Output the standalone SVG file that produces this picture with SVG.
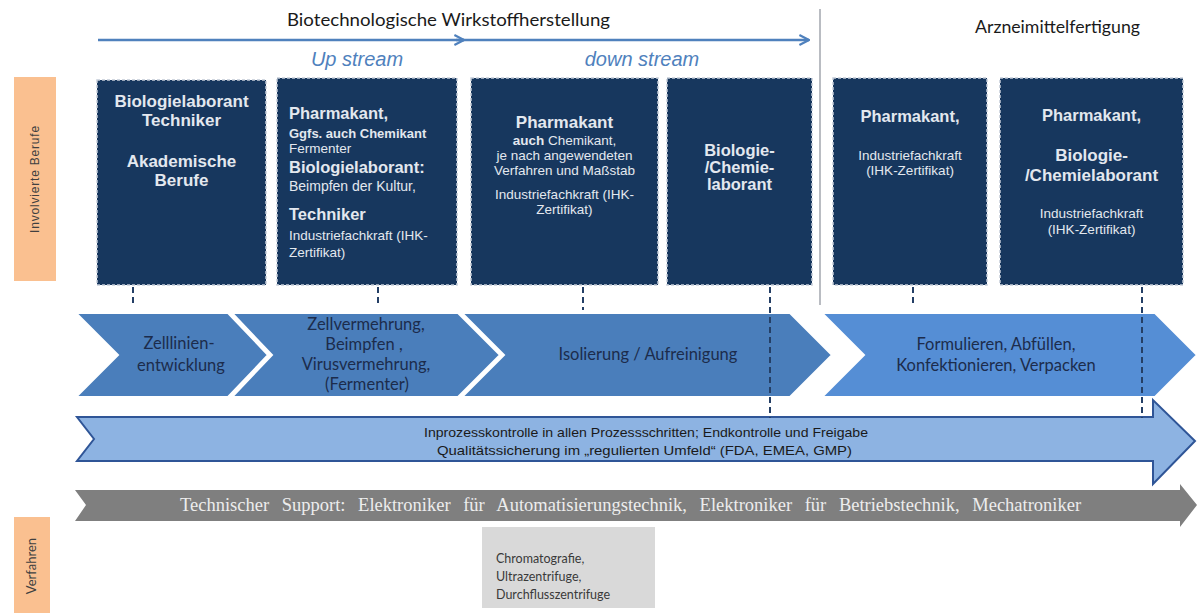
<svg xmlns="http://www.w3.org/2000/svg" width="1197" height="613" viewBox="0 0 1197 613">
  <defs>
    <style>
      .hdr{font-family:Lato,"Open Sans","Liberation Sans",sans-serif;font-size:17.5px;fill:#1a1a1a}
      .stream{font-family:"Liberation Sans",Arial,sans-serif;font-style:italic;font-size:20px;fill:#4f81bd;text-anchor:middle}
      .side rect{fill:#fac090}
      .side text{font-family:"Liberation Sans",Arial,sans-serif;font-size:12px;fill:#404040;text-anchor:middle}
      .box rect{fill:#17375e;stroke:#c3ccd8;stroke-width:1.5;stroke-dasharray:3 2}
      .box text{font-family:"Liberation Sans",Arial,sans-serif;fill:#e3e8ef;text-anchor:middle}
      .box text.l{text-anchor:start}
      .b{font-weight:bold;font-size:16.5px}
      .m{font-size:13.5px}
      .s{font-size:13.5px}
      .chev polygon{stroke:#ffffff;stroke-width:2}
      .chev text{font-family:Lato,"Open Sans",sans-serif;font-size:16.5px;fill:#1c2c4c;text-anchor:middle}
      .link{stroke:#243f66;stroke-width:2;stroke-dasharray:6 4;fill:none}
      .flow{stroke:#4f81bd;stroke-width:2.6;fill:none}
    </style>
    <marker id="open" viewBox="0 0 10 10" refX="9" refY="5" markerWidth="12" markerHeight="12" markerUnits="userSpaceOnUse" orient="auto">
      <path d="M1,0.8 L9,5 L1,9.2" fill="none" stroke="#4f81bd" stroke-width="1.8"/>
    </marker>
  </defs>

  <rect width="1197" height="613" fill="#ffffff"/>

  <!-- section headings -->
  <g id="headings">
    <text class="hdr" x="287" y="26" textLength="323" lengthAdjust="spacingAndGlyphs">Biotechnologische Wirkstoffherstellung</text>
    <text class="hdr" x="975" y="33" textLength="165" lengthAdjust="spacingAndGlyphs">Arzneimittelfertigung</text>
    <text class="stream" x="357" y="66">Up stream</text>
    <text class="stream" x="642" y="66">down stream</text>
    <line x1="820" y1="9" x2="820" y2="305" stroke="#8a8f99" stroke-width="1.2"/>
  </g>

  <!-- side labels -->
  <g id="label-berufe" class="side">
    <rect x="14" y="77" width="42" height="204"/>
    <text transform="translate(39,179) rotate(-90)" letter-spacing="0.8">Involvierte Berufe</text>
  </g>
  <g id="label-verfahren" class="side">
    <rect x="14" y="517" width="36" height="96"/>
    <text transform="translate(36,566) rotate(-90)" style="font-family:Lato,'Open Sans',sans-serif;font-size:13px">Verfahren</text>
  </g>

  <!-- occupation boxes -->
  <g id="box-zelllinie" class="box">
    <rect x="97" y="80" width="169" height="205"/>
    <text class="b" x="181.5" y="107" style="font-size:17px">Biologielaborant</text>
    <text class="b" x="181.5" y="126" style="font-size:17px">Techniker</text>
    <text class="b" x="181.5" y="167" style="font-size:17px">Akademische</text>
    <text class="b" x="181.5" y="186" style="font-size:17px">Berufe</text>
  </g>

  <g id="box-vermehrung" class="box">
    <rect x="277" y="78" width="180" height="207"/>
    <text class="l b" x="289" y="119">Pharmakant,</text>
    <text class="l" x="289" y="138" font-size="13" font-weight="bold">Ggfs. auch Chemikant</text>
    <text class="l m" x="289" y="153">Fermenter</text>
    <text class="l b" x="289" y="173">Biologielaborant:</text>
    <text class="l" x="289" y="191" font-size="14">Beimpfen der Kultur,</text>
    <text class="l b" x="289" y="220">Techniker</text>
    <text class="l s" x="289" y="240">Industriefachkraft (IHK-</text>
    <text class="l s" x="289" y="257">Zertifikat)</text>
  </g>

  <g id="box-isolierung" class="box">
    <rect x="471" y="78" width="187" height="207"/>
    <text class="b" x="564.5" y="128" style="font-size:17px">Pharmakant</text>
    <text class="m" x="564.5" y="145"><tspan font-weight="bold">auch</tspan> Chemikant,</text>
    <text class="m" x="564.5" y="160">je nach angewendeten</text>
    <text class="m" x="564.5" y="175">Verfahren und Maßstab</text>
    <text class="s" x="564.5" y="199">Industriefachkraft (IHK-</text>
    <text class="s" x="564.5" y="214">Zertifikat)</text>
  </g>

  <g id="box-labor" class="box">
    <rect x="667" y="78" width="145" height="207"/>
    <text class="b" x="739.5" y="156">Biologie-</text>
    <text class="b" x="739.5" y="173">/Chemie-</text>
    <text class="b" x="739.5" y="190">laborant</text>
  </g>

  <g id="box-fertigung" class="box">
    <rect x="833" y="78" width="154" height="207"/>
    <text class="b" x="910" y="122">Pharmakant,</text>
    <text class="s" x="910" y="160">Industriefachkraft</text>
    <text class="s" x="910" y="175">(IHK-Zertifikat)</text>
  </g>

  <g id="box-fertigung-labor" class="box">
    <rect x="1000" y="78" width="183" height="207"/>
    <text class="b" x="1091.5" y="121">Pharmakant,</text>
    <text class="b" x="1091.5" y="161" style="font-size:17px">Biologie-</text>
    <text class="b" x="1091.5" y="181" style="font-size:17px">/Chemielaborant</text>
    <text class="s" x="1091.5" y="218">Industriefachkraft</text>
    <text class="s" x="1091.5" y="234">(IHK-Zertifikat)</text>
  </g>

  <!-- process chevrons -->
  <g id="step-zelllinie" class="chev">
    <polygon points="76,313 228,313 268,355 228,397 76,397 118,355" fill="#4a7ebb"/>
    <text x="179" y="349">Zelllinien-</text>
    <text x="181" y="371">entwicklung</text>
  </g>
  <g id="step-vermehrung" class="chev">
    <polygon points="232,313 458,313 500,355 458,397 232,397 272,355" fill="#4a7ebb"/>
    <text x="366" y="330">Zellvermehrung,</text>
    <text x="364" y="350">Beimpfen ,</text>
    <text x="366" y="370">Virusvermehrung,</text>
    <text x="367" y="390">(Fermenter)</text>
  </g>
  <g id="step-isolierung" class="chev">
    <polygon points="462,313 790,313 832,355 790,397 462,397 504,355" fill="#4a7ebb"/>
    <text x="648" y="360">Isolierung / Aufreinigung</text>
  </g>
  <g id="step-fertigung" class="chev">
    <polygon points="822,313 1155,313 1197,355 1155,397 822,397 864,355" fill="#558ed5"/>
    <text x="996" y="350">Formulieren, Abfüllen,</text>
    <text x="996" y="371">Konfektionieren, Verpacken</text>
  </g>

  <!-- quality band -->
  <g id="band-qualitaet">
    <polygon points="77,417 1153,417 1153,400 1195,441 1153,484 1153,461 77,461 94,439" fill="#8db3e2" stroke="#2f5597" stroke-width="2"/>
    <g font-family="'Liberation Sans',Arial,sans-serif" font-size="13" fill="#1a1a1a">
      <text x="424" y="437" textLength="444" lengthAdjust="spacingAndGlyphs">Inprozesskontrolle in allen Prozessschritten; Endkontrolle und Freigabe</text>
      <text x="437" y="455" textLength="415" lengthAdjust="spacingAndGlyphs">Qualitätssicherung im „regulierten Umfeld“ (FDA, EMEA,  GMP)</text>
    </g>
  </g>

  <!-- technical support band -->
  <g id="band-support">
    <polygon points="75,490 1180,490 1180,484 1197,505 1180,527 1180,521 75,521 86,505" fill="#7f7f7f"/>
    <text x="180" y="511" font-family="'Liberation Serif','Times New Roman',serif" font-size="18.5" word-spacing="8" fill="#ededed">Technischer Support: Elektroniker für Automatisierungstechnik, Elektroniker für Betriebstechnik, Mechatroniker</text>
  </g>

  <!-- methods -->
  <g id="methods">
    <rect x="482" y="527" width="173" height="81" fill="#d9d9d9"/>
    <g font-family="Lato,'Open Sans',sans-serif" font-size="12.5" fill="#3a3a3a">
      <text x="496" y="563">Chromatografie,</text>
      <text x="496" y="581">Ultrazentrifuge,</text>
      <text x="496" y="599">Durchflusszentrifuge</text>
    </g>
  </g>

  <!-- connectors -->
  <g id="connectors">
    <line class="flow" x1="98" y1="40" x2="464" y2="40" marker-end="url(#open)"/>
    <line class="flow" x1="456" y1="40" x2="809" y2="40" marker-end="url(#open)"/>
    <line class="link" x1="133" y1="287" x2="133" y2="306"/>
    <line class="link" x1="378" y1="287" x2="378" y2="306"/>
    <line class="link" x1="583" y1="287" x2="583" y2="310"/>
    <line class="link" x1="770" y1="287" x2="770" y2="418"/>
    <line class="link" x1="913" y1="287" x2="913" y2="306"/>
    <line class="link" x1="1142" y1="287" x2="1142" y2="418"/>
  </g>
</svg>
